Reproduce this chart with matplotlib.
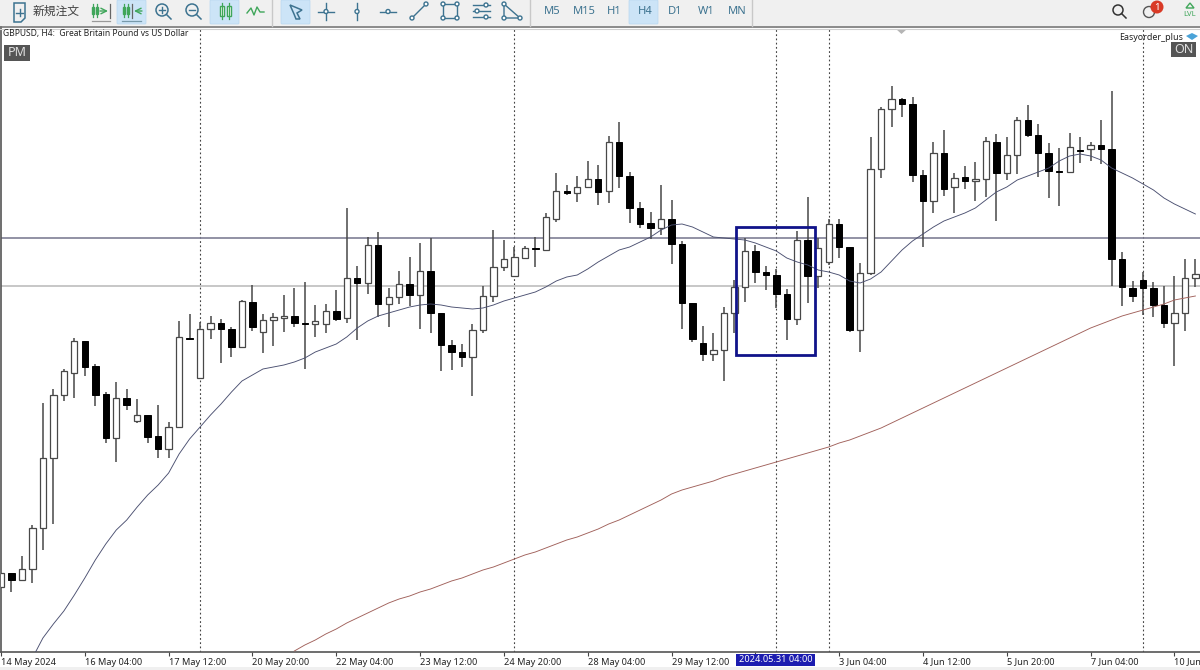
import numpy as np
import matplotlib
matplotlib.use("Agg")
import matplotlib.pyplot as plt
from matplotlib.patches import Rectangle, FancyBboxPatch, Circle, Polygon

plt.rcParams['font.family'] = ['Noto Sans', 'Noto Sans CJK JP', 'DejaVu Sans']

# GBPUSD H4 candles (points above an arbitrary base, no price scale is shown)
opens = [63,77,70,81,122,192,255,277,309,284,256,212,252,229,235,214,201,223,312,272,321,327,321,303,348,
         318,330,332,334,327,326,326,339,332,372,367,405,346,353,366,355,379,337,305,298,293,320,354,383,374,
         392,402,400,431,459,457,463,471,459,508,474,442,427,422,431,406,347,307,296,300,337,363,399,378,375,
         356,331,410,374,388,426,403,320,377,481,541,551,546,475,449,497,463,473,469,471,508,477,495,530,515,
         497,479,478,500,501,505,501,391,362,370,362,345,327,337,372]
highs = [77,77,94,125,247,261,281,312,309,286,258,268,261,251,235,245,228,329,336,328,334,331,323,350,365,
         336,337,355,362,368,345,346,360,442,384,413,418,362,379,393,407,412,337,310,306,326,364,420,410,403,
         404,413,437,477,465,474,489,485,514,528,478,448,438,465,450,409,347,324,317,343,370,412,405,384,381,
         361,419,453,412,431,431,403,387,513,543,564,552,553,480,508,520,477,484,488,513,516,513,533,545,526,
         507,502,517,513,508,530,559,398,369,378,368,364,374,391,391]
lows = [63,58,69,67,100,126,249,252,274,244,207,188,240,227,207,192,192,223,311,272,311,287,293,303,319,
        297,304,318,323,281,313,317,329,327,310,356,333,323,346,344,321,317,279,280,283,254,317,348,379,374,
        392,383,400,428,455,448,462,445,447,462,427,422,411,415,386,321,308,289,289,269,317,348,367,360,342,
        310,325,347,362,385,392,318,298,375,472,523,533,468,403,437,454,437,461,449,453,429,470,476,513,473,
        452,444,478,487,489,486,364,344,348,335,333,322,284,319,363]
closes = [77,70,81,122,192,255,279,309,283,255,212,252,245,235,213,201,223,313,311,321,327,321,303,349,323,
          330,333,334,327,326,329,339,331,372,367,405,346,353,366,355,379,337,305,298,293,320,354,383,391,393,
          402,401,433,459,457,463,471,458,508,474,442,426,422,431,406,347,311,296,300,337,363,399,378,375,356,
          331,410,374,402,426,403,320,377,481,541,551,546,475,449,497,461,472,469,471,509,477,495,530,515,497,
          479,478,503,499,505,501,391,363,354,362,345,327,337,372,376]

# moving averages, they end on the last bar
ma_short = [-8,12,26,39,55,72,90,106,120,130,143,155,165,177,196,211,223,235,246,258,269,275,281,283,285,288,
            292,298,302,306,313,322,329,334,337,340,343,345,346,345,343,342,341,342,345,349,352,355,358,363,
            369,373,375,381,388,394,400,403,408,413,420,425,426,423,418,413,412,411,410,407,403,399,392,388,
            385,380,378,375,369,367,371,378,389,400,409,416,423,429,433,437,442,450,458,463,470,474,478,482,
            489,494,496,494,490,482,477,472,466,460,452,446,441,436]
ma_long = [-1,5,10,16,21,27,32,37,42,47,51,54,58,61,65,69,72,76,80,83,87,91,95,98,102,106,110,113,117,121,126,
           130,135,140,145,150,156,160,163,166,169,173,176,179,182,185,188,191,194,197,200,203,207,210,214,218,
           222,227,232,237,242,247,252,257,262,267,272,277,282,287,292,297,302,307,312,317,322,326,330,334,337,
           340,343,346,350,352,354]

level_upper = 412
level_lower = 364
separator_bars = [19, 49, 74, 79, 109]
box_bars = (70.2, 77.65)
box_levels = (295, 423)

tick_bars = list(range(0, 115, 8))
tick_labels = ["14 May 2024", "16 May 04:00", "17 May 12:00", "20 May 20:00", "22 May 04:00",
               "23 May 12:00", "24 May 20:00", "28 May 04:00", "29 May 12:00", "", "3 Jun 04:00",
               "4 Jun 12:00", "5 Jun 20:00", "7 Jun 04:00", "10 Jun"]

opens, highs, lows, closes = map(np.array, (opens, highs, lows, closes))
bars = np.arange(len(opens))
up = closes > opens

fig = plt.figure(figsize=(12, 6.7), dpi=100, facecolor='white')
ax = fig.add_axes([1/1200, 18/670, 1199/1200, 625/670])
ax.set_xlim(0.14, 114.44)
ax.set_ylim(-2, 623)

for b in separator_bars:
    ax.axvline(b, color='#444444', lw=0.8, ls=(0, (1.6, 2.2)), zorder=1)
ax.axhline(level_upper, color='#7f7f95', lw=1.2, zorder=1)
ax.axhline(level_lower, color='#bdbdbd', lw=1.2, zorder=1)

ax.vlines(bars, lows, highs, color='#484848', lw=1.1, zorder=2)
ax.bar(bars[up], (closes - opens)[up], bottom=opens[up], width=0.6, color='white',
       edgecolor='#484848', lw=0.9, zorder=3)
ax.bar(bars[~up], (closes - opens)[~up], bottom=opens[~up], width=0.62, color='black',
       edgecolor='black', lw=0.7, zorder=3)

ax.plot(np.arange(115 - len(ma_short), 115), ma_short, color='#4a4f70', lw=0.65, zorder=4)
ax.plot(np.arange(115 - len(ma_long), 115), ma_long, color='#a0605a', lw=0.65, zorder=4)

ax.add_patch(Rectangle((box_bars[0], box_levels[0]), box_bars[1] - box_bars[0],
                       box_levels[1] - box_levels[0], fill=False, ec='#10138a', lw=2, zorder=5))

ax.set_yticks([])
ax.set_xticks(tick_bars)
ax.set_xticklabels(tick_labels, ha='left', fontsize=6.6, color='#222222')
ax.tick_params(axis='x', length=3, width=0.8, color='#444444', pad=1)
for s in ('top', 'right'):
    ax.spines[s].set_visible(False)
for s in ('left', 'bottom'):
    ax.spines[s].set_color('#555555')
    ax.spines[s].set_linewidth(1.2)

# window chrome in pixel coordinates
ui = fig.add_axes([0, 0, 1, 1], zorder=10)
ui.set_xlim(0, 1200)
ui.set_ylim(670, 0)
ui.axis('off')
ui.patch.set_alpha(0)

ui.add_patch(Rectangle((0, 0), 1200, 26, color='#f0f0f0', lw=0))
ui.plot([0, 1200], [27, 27], color='#777777', lw=1.2)
ui.plot([0, 1200], [29, 29], color='#d0d0d0', lw=0.8)
ui.add_patch(Rectangle((0, 667), 1200, 3, color='#f0f0f0', lw=0))

for x0, x1 in [(117, 146), (210, 239), (281, 310), (629, 658)]:
    ui.add_patch(FancyBboxPatch((x0 + 1, 1), x1 - x0 - 2, 22, boxstyle='round,pad=1', fc='#cce4f7', ec='#b8d8f0', lw=0.5))
for x in (272, 530, 752):
    ui.plot([x, x], [0, 26], color='#c8c8c8', lw=1)

BLUE = '#3d7390'
GREEN = '#3fa65a'


def candle_icon(x, y, half=3.5, h=5, w=2, color=GREEN):
    for dx in (-half, half):
        ui.plot([x + dx, x + dx], [y - h - 3, y + h + 3], color=color, lw=0.9)
        ui.add_patch(Rectangle((x + dx - w, y - h), 2 * w, 2 * h, fc='white', ec=color, lw=1))


def magnifier(x, y, color=BLUE):
    ui.add_patch(Circle((x, y), 6, fill=False, ec=color, lw=1.1))
    ui.plot([x + 4.5, x + 9], [y + 4.5, y + 9], color=color, lw=1.1)
    ui.plot([x - 3, x + 3], [y, y], color=color, lw=1)


def node(x, y):
    ui.add_patch(Circle((x, y), 2, fc='white', ec=BLUE, lw=1, zorder=5))


# new order document
ui.add_patch(Polygon([(14, 3), (25, 3), (25, 18), (21, 22), (14, 22)], fill=False, ec=BLUE, lw=1.1))
ui.plot([19.5, 19.5], [9, 16], color=BLUE, lw=1)
ui.plot([16, 23], [12.5, 12.5], color=BLUE, lw=1)
ui.text(33, 11.5, "新規注文", fontsize=8.5, color='#444444', va='center', ha='left')

# chart shift / autoscroll
candle_icon(95, 10, half=2.2, h=3.5, w=1.2)
ui.annotate('', xy=(108, 11), xytext=(100, 11), arrowprops=dict(arrowstyle='->', color=GREEN, lw=1, shrinkA=0, shrinkB=0))
ui.plot([110, 110], [4, 18], color='#666666', lw=0.9)
ui.plot([92, 110], [21, 21], color='#999999', lw=0.9)
candle_icon(126, 10, half=2.2, h=3.5, w=1.2)
ui.plot([132, 132], [4, 18], color='#666666', lw=0.9)
ui.annotate('', xy=(134, 11), xytext=(142, 11), arrowprops=dict(arrowstyle='->', color=GREEN, lw=1, shrinkA=0, shrinkB=0))
ui.plot([122, 141], [21, 21], color='#7799aa', lw=0.9)

magnifier(162, 10)
ui.plot([162, 162], [7, 13], color=BLUE, lw=1)
magnifier(192, 10)
candle_icon(225, 11)
ui.plot([247, 251, 254, 257, 260, 264], [13, 8, 15, 7, 12, 12], color=GREEN, lw=1)

# cursor and drawing tools
ui.add_patch(Polygon([(290, 5), (302, 10), (297, 13), (300, 19), (296, 19), (294, 14)], fill=False, ec=BLUE, lw=1.1))
ui.plot([318, 334], [11.5, 11.5], color=BLUE, lw=1)
ui.plot([326, 326], [3, 20], color=BLUE, lw=1)
node(326, 11.5)
ui.plot([357, 357], [3, 20], color=BLUE, lw=1)
node(357, 11.5)
ui.plot([380, 396], [11.5, 11.5], color=BLUE, lw=1)
node(388, 11.5)
ui.plot([412, 426], [18, 4], color=BLUE, lw=1)
node(412, 18)
node(426, 4)
ui.add_patch(Rectangle((443, 4), 14, 14, fill=False, ec=BLUE, lw=1))
for px, py in [(443, 4), (457, 4), (443, 18), (457, 18)]:
    node(px, py)
for py, px in [(5, 486), (11, 477), (17, 486)]:
    ui.plot([473, 490], [py, py], color=BLUE, lw=1)
    node(px, py)
ui.add_patch(Polygon([(504, 4), (504, 18), (520, 18)], fill=False, ec=BLUE, lw=1))
for px, py in [(504, 4), (504, 18), (520, 18)]:
    node(px, py)

for label, x in zip(["M5", "M15", "H1", "H4", "D1", "W1", "MN"], [552, 584, 614, 645, 675, 706, 737]):
    ui.text(x, 11.5, label, fontsize=8, color=BLUE, va='center', ha='center')

# right side of the toolbar
ui.add_patch(Circle((1118, 10), 5, fill=False, ec='#333333', lw=1.1))
ui.plot([1121.5, 1126], [13.5, 18], color='#333333', lw=1.1)
ui.add_patch(Circle((1149, 12), 5.5, fill=False, ec='#555555', lw=1))
ui.add_patch(Circle((1157, 7), 6.5, fc='#d93a26', ec='none', zorder=6))
ui.text(1157, 7, "1", fontsize=7, color='white', va='center', ha='center', zorder=7)
ui.add_patch(Polygon([(1190, 3), (1194, 8), (1186, 8)], fc='none', ec=GREEN, lw=1))
ui.text(1190, 15, "LVL", fontsize=5.5, color=GREEN, va='center', ha='center')

# chart overlays
ui.text(3, 33.5, "GBPUSD, H4:  Great Britain Pound vs US Dollar", fontsize=6.1, color='#222222', va='center', ha='left')
ui.add_patch(Rectangle((4, 45), 26, 16, fc='#555555', ec='none'))
ui.text(17, 53, "PM", fontsize=9, color='#e0e0e0', va='center', ha='center')
ui.text(1183, 38, "Easyorder_plus", fontsize=6.4, color='#222222', va='center', ha='right')
ui.add_patch(Polygon([(1186, 36), (1192, 33), (1198, 36), (1192, 40)], fc='#4aa3d8', ec='none'))
ui.add_patch(Rectangle((1171, 42), 25, 15, fc='#555555', ec='none'))
ui.text(1183.5, 49.5, "ON", fontsize=9, color='#e0e0e0', va='center', ha='center')
ui.add_patch(Polygon([(896, 29), (907, 29), (901.5, 34)], fc='#b5b5b5', ec='none'))

# crosshair time label on the axis
ui.add_patch(Rectangle((736, 654), 79, 12, fc='#1c1cb0', ec='none'))
ui.text(775.5, 660, "2024.05.31 04:00", fontsize=6.6, color='white', va='center', ha='center')

fig.savefig("out.png", dpi=100)
